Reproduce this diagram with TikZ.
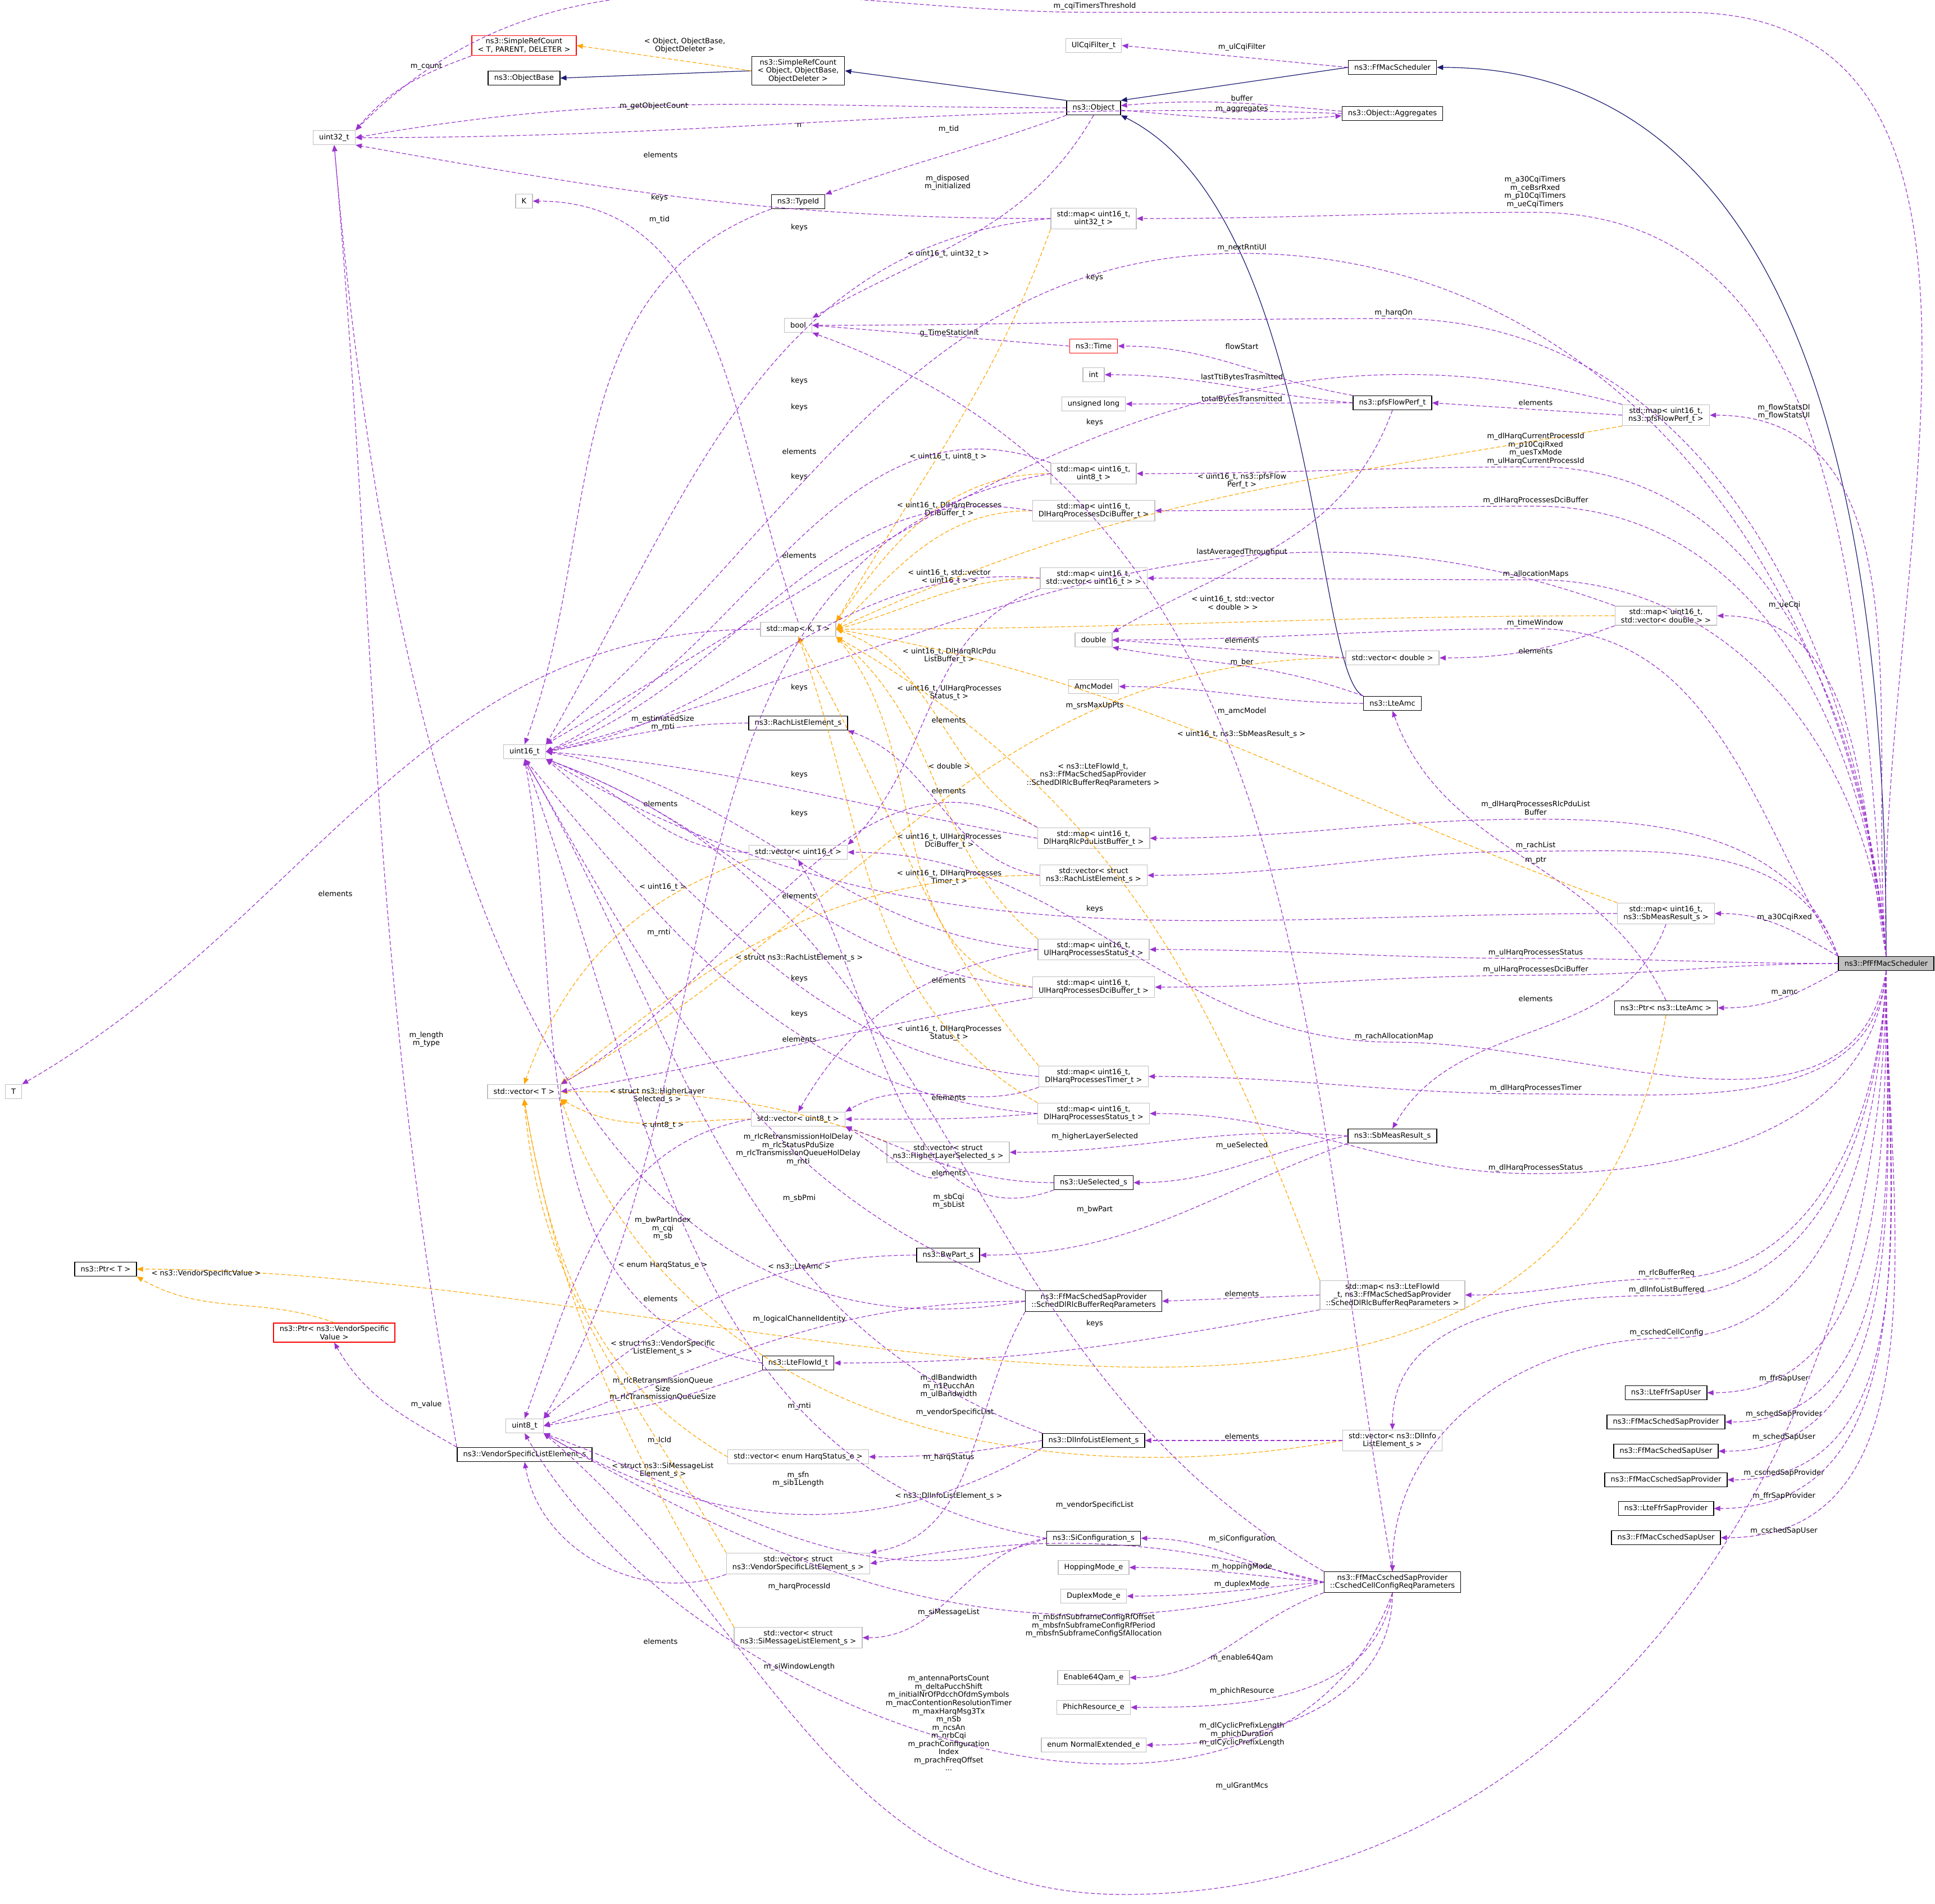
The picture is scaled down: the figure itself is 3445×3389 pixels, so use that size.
\documentclass[tikz,border=0pt]{standalone}
\usepackage{fontspec}
\setmainfont{DejaVu Sans}
\usetikzlibrary{arrows.meta}
\definecolor{pur}{HTML}{9A32CD}
\definecolor{org}{HTML}{FFA500}
\definecolor{nav}{HTML}{191970}
\definecolor{gbd}{HTML}{BFBFBF}
\newcommand\SE[6]{\draw[pe] (#1) to[out=#2,in=0] (#5,-#6) to[out=180,in=#4] (#3);}
\newcommand\lb[3]{\node[lbl] at (#1,-#2) {#3};}
\begin{document}
\begin{tikzpicture}[x=0.1bp,y=0.1bp,
 every node/.style={font=\fontsize{1.31}{1.46}\selectfont,align=center},
 bx/.style={draw=black,line width=0.14bp,inner xsep=1.06bp,inner ysep=0.48bp,minimum height=2.5bp},
 gb/.style={bx,draw=gbd},
 rb/.style={bx,draw=red},
 lbl/.style={inner sep=0.1bp},
 pe/.style={draw=pur,line width=0.12bp,dash pattern=on 0.7bp off 0.4bp,-{Triangle[length=1.1bp,width=0.9bp]}},
 oe/.style={pe,draw=org,-{Triangle[length=1.1bp,width=0.9bp,fill=org]}},
 ne/.style={draw=nav,line width=0.12bp,-{Triangle[length=1.1bp,width=0.9bp]}},
]
\useasboundingbox (0,0) rectangle (3445,-3389);
% nodes
\node[bx,fill=gbd] (sched) at (3358,-1715) {ns3::PfFfMacScheduler};
\node[bx] (ffmac) at (2479,-120) {ns3::FfMacScheduler};
\node[gb] (ulcqi) at (1947,-81) {UlCqiFilter\_t};
\node[rb] (srcT) at (933,-81) {ns3::SimpleRefCount\\< T, PARENT, DELETER >};
\node[bx] (objbase) at (933,-139) {ns3::ObjectBase};
\node[bx] (srcobj) at (1421,-126) {ns3::SimpleRefCount\\< Object, ObjectBase,\\ObjectDeleter >};
\node[bx] (object) at (1947,-192) {ns3::Object};
\node[bx] (aggr) at (2479,-202) {ns3::Object::Aggregates};
\node[gb] (u32) at (595,-245) {uint32\_t};
\node[gb] (K) at (933,-358) {K};
\node[bx] (typeid) at (1421,-359) {ns3::TypeId};
\node[gb] (m1632) at (1947,-389) {std::map< uint16\_t,\\uint32\_t >};
\node[gb] (bool) at (1421,-579) {bool};
\node[rb] (time) at (1947,-616) {ns3::Time};
\node[gb] (int) at (1947,-667) {int};
\node[gb] (ulong) at (1947,-719) {unsigned long};
\node[bx] (pfs) at (2479,-717) {ns3::pfsFlowPerf\_t};
\node[gb] (mpfs) at (2966,-739) {std::map< uint16\_t,\\ns3::pfsFlowPerf\_t >};
\node[gb] (m168) at (1947,-843) {std::map< uint16\_t,\\uint8\_t >};
\node[gb] (mdci) at (1947,-909) {std::map< uint16\_t,\\DlHarqProcessesDciBuffer\_t >};
\node[gb] (mvec16) at (1947,-1029) {std::map< uint16\_t,\\std::vector< uint16\_t > >};
\node[gb] (mKT) at (1421,-1120) {std::map< K, T >};
\node[gb] (mvecd) at (2966,-1096) {std::map< uint16\_t,\\std::vector< double > >};
\node[gb] (dbl) at (1947,-1139) {double};
\node[gb] (vecd) at (2479,-1171) {std::vector< double >};
\node[gb] (amcm) at (1947,-1222) {AmcModel};
\node[bx] (lteamc) at (2479,-1252) {ns3::LteAmc};
\node[gb] (u16) at (934,-1338) {uint16\_t};
\node[bx] (rach) at (1421,-1287) {ns3::RachListElement\_s};
\node[gb] (mrlc) at (1947,-1492) {std::map< uint16\_t,\\DlHarqRlcPduListBuffer\_t >};
\node[gb] (v16) at (1421,-1517) {std::vector< uint16\_t >};
\node[gb] (vrach) at (1947,-1558) {std::vector< struct\\ns3::RachListElement\_s >};
\node[gb] (msb) at (2966,-1626) {std::map< uint16\_t,\\ns3::SbMeasResult\_s >};
\node[gb] (mulst) at (1947,-1690) {std::map< uint16\_t,\\UlHarqProcessesStatus\_t >};
\node[gb] (muldci) at (1947,-1757) {std::map< uint16\_t,\\UlHarqProcessesDciBuffer\_t >};
\node[bx] (plteamc) at (2966,-1794) {ns3::Ptr< ns3::LteAmc >};
\node[gb] (T) at (24,-1943) {T};
\node[gb] (vT) at (933,-1943) {std::vector< T >};
\node[gb] (mdltim) at (1947,-1916) {std::map< uint16\_t,\\DlHarqProcessesTimer\_t >};
\node[gb] (v8) at (1421,-1992) {std::vector< uint8\_t >};
\node[gb] (mdlst) at (1947,-1982) {std::map< uint16\_t,\\DlHarqProcessesStatus\_t >};
\node[gb] (vhigh) at (1688,-2051) {std::vector< struct\\ns3::HigherLayerSelected\_s >};
\node[bx] (sbm) at (2479,-2022) {ns3::SbMeasResult\_s};
\node[bx] (uesel) at (1947,-2105) {ns3::UeSelected\_s};
\node[bx] (bwp) at (1688,-2234) {ns3::BwPart\_s};
\node[bx] (ptrT) at (188,-2259) {ns3::Ptr< T >};
\node[rb] (pvsv) at (595,-2372) {ns3::Ptr< ns3::VendorSpecific\\Value >};
\node[bx] (sdrlc) at (1947,-2316) {ns3::FfMacSchedSapProvider\\::SchedDlRlcBufferReqParameters};
\node[gb] (mflow) at (2479,-2305) {std::map< ns3::LteFlowId\\\_t, ns3::FfMacSchedSapProvider\\::SchedDlRlcBufferReqParameters >};
\node[bx] (flow) at (1421,-2426) {ns3::LteFlowId\_t};
\node[gb] (u8) at (934,-2538) {uint8\_t};
\node[bx] (vse) at (934,-2589) {ns3::VendorSpecificListElement\_s};
\node[gb] (vharq) at (1421,-2593) {std::vector< enum HarqStatus\_e >};
\node[bx] (dli) at (1947,-2564) {ns3::DlInfoListElement\_s};
\node[gb] (vdli) at (2479,-2564) {std::vector< ns3::DlInfo\\ListElement\_s >};
\node[gb] (vvse) at (1421,-2783) {std::vector< struct\\ns3::VendorSpecificListElement\_s >};
\node[bx] (sic) at (1947,-2738) {ns3::SiConfiguration\_s};
\node[gb] (hop) at (1947,-2790) {HoppingMode\_e};
\node[gb] (dup) at (1947,-2841) {DuplexMode\_e};
\node[bx] (csched) at (2479,-2816) {ns3::FfMacCschedSapProvider\\::CschedCellConfigReqParameters};
\node[gb] (vsim) at (1421,-2915) {std::vector< struct\\ns3::SiMessageListElement\_s >};
\node[gb] (e64) at (1947,-2986) {Enable64Qam\_e};
\node[gb] (phich) at (1947,-3039) {PhichResource\_e};
\node[gb] (nrm) at (1947,-3106) {enum NormalExtended\_e};
\node[bx] (ffrU) at (2966,-2479) {ns3::LteFfrSapUser};
\node[bx] (sspP) at (2966,-2531) {ns3::FfMacSchedSapProvider};
\node[bx] (sspU) at (2966,-2583) {ns3::FfMacSchedSapUser};
\node[bx] (csspP) at (2966,-2634) {ns3::FfMacCschedSapProvider};
\node[bx] (ffrP) at (2966,-2685) {ns3::LteFfrSapProvider};
\node[bx] (csspU) at (2966,-2737) {ns3::FfMacCschedSapUser};
% inheritance
\draw[ne] (sched.north) to[out=90,in=0] (ffmac.east);
\draw[ne] (ffmac.west) -- (object.north east);
\draw[ne] (object.north west) -- (srcobj.east);
\draw[ne] (srcobj.west) -- (objbase.east);
\draw[ne] (lteamc.north west) .. controls (2340,-1200) and (2345,-380) .. (object.south east);
% template instances
\draw[oe] (srcobj.west) -- (srcT.east); \lb{1219}{81}{< Object, ObjectBase,\\ObjectDeleter >}
\draw[oe] (m1632.south west) to[out=-110,in=60] (mKT.north east); \lb{1688}{452}{< uint16\_t, uint32\_t >}
\draw[oe] (m168.west) to[out=180,in=55] (mKT.north east); \lb{1688}{813}{< uint16\_t, uint8\_t >}
\draw[oe] (mdci.west) to[out=180,in=45] (mKT.east); \lb{1690}{907}{< uint16\_t, DlHarqProcesses\\DciBuffer\_t >}
\draw[oe] (mpfs.south west) to[out=190,in=25] (mKT.east); \lb{2211}{856}{< uint16\_t, ns3::pfsFlow\\Perf\_t >}
\draw[oe] (mvec16.west) to[out=180,in=15] (mKT.east); \lb{1690}{1027}{< uint16\_t, std::vector\\< uint16\_t > >}
\draw[oe] (mvecd.west) to[out=180,in=0] (mKT.east); \lb{2195}{1073}{< uint16\_t, std::vector\\< double > >}
\draw[oe] (mrlc.north west) to[out=150,in=-20] (mKT.east); \lb{1690}{1167}{< uint16\_t, DlHarqRlcPdu\\ListBuffer\_t >}
\draw[oe] (mulst.north west) to[out=140,in=-40] (mKT.south east); \lb{1690}{1233}{< uint16\_t, UlHarqProcesses\\Status\_t >}
\draw[oe] (msb.north west) to[out=160,in=-10] (mKT.east); \lb{2210}{1307}{< uint16\_t, ns3::SbMeasResult\_s >}
\draw[oe] (mflow.north west) to[out=110,in=-30] (mKT.south east); \lb{1946}{1379}{< ns3::LteFlowId\_t,\\ns3::FfMacSchedSapProvider\\::SchedDlRlcBufferReqParameters >}
\draw[oe] (muldci.west) to[out=170,in=-50] (mKT.south east); \lb{1690}{1497}{< uint16\_t, UlHarqProcesses\\DciBuffer\_t >}
\draw[oe] (mdltim.north west) to[out=130,in=-60] (mKT.south); \lb{1690}{1562}{< uint16\_t, DlHarqProcesses\\Timer\_t >}
\draw[oe] (mdlst.north west) to[out=150,in=-70] (mKT.south); \lb{1690}{1839}{< uint16\_t, DlHarqProcesses\\Status\_t >}
\draw[oe] (vecd.west) to[out=180,in=30] (vT.north east); \lb{1690}{1364}{< double >}
\draw[oe] (v16.south west) to[out=200,in=70] (vT.north); \lb{1180}{1579}{< uint16\_t >}
\draw[oe] (vrach.west) to[out=180,in=40] (vT.north east); \lb{1423}{1705}{< struct ns3::RachListElement\_s >}
\draw[oe] (vhigh.north west) to[out=160,in=0] (vT.east); \lb{1170}{1950}{< struct ns3::HigherLayer\\Selected\_s >}
\draw[oe] (v8.west) to[out=180,in=-30] (vT.south east); \lb{1180}{2003}{< uint8\_t >}
\draw[oe] (vharq.west) to[out=150,in=-80] (vT.south); \lb{1180}{2252}{< enum HarqStatus\_e >}
\draw[oe] (vvse.north west) to[out=120,in=-85] (vT.south); \lb{1180}{2399}{< struct ns3::VendorSpecific\\ListElement\_s >}
\draw[oe] (vsim.north west) to[out=120,in=-80] (vT.south); \lb{1180}{2617}{< struct ns3::SiMessageList\\Element\_s >}
\draw[oe] (vdli.west) to[out=190,in=-70] (vT.south east); \lb{1689}{2663}{< ns3::DlInfoListElement\_s >}
\draw[oe] (plteamc.south) to[out=-100,in=0] (ptrT.east); \lb{1423}{2254}{< ns3::LteAmc >}
\draw[oe] (pvsv.north) to[out=160,in=-30] (ptrT.south east); \lb{367}{2267}{< ns3::VendorSpecificValue >}
% members (non scheduler)
\draw[pe] (ffmac.west) -- (ulcqi.east); \lb{2211}{84}{m\_ulCqiFilter}
\draw[pe] (srcT.south west) to[out=200,in=50] (u32.north east); \lb{759}{118}{m\_count}
\draw[pe] (object.west) to[out=180,in=10] (u32.east); \lb{1164}{189}{m\_getObjectCount}
\draw[pe] (aggr.west) to[out=178,in=0] (u32.east); \lb{1423}{223}{n}
\draw[pe] ([yshift=0.4bp]aggr.west) to[out=175,in=5] ([yshift=0.4bp]object.east); \lb{2211}{175}{buffer}
\draw[pe] ([yshift=-0.4bp]object.east) to[out=-5,in=185] ([yshift=-0.4bp]aggr.west); \lb{2211}{194}{m\_aggregates}
\draw[pe] (object.south west) to[out=200,in=20] (typeid.north east); \lb{1689}{230}{m\_tid}
\draw[pe] (object.south) to[out=-120,in=30] (bool.north east); \lb{1687}{325}{m\_disposed\\m\_initialized}
\draw[pe] (m1632.west) to[out=180,in=-10] (u32.south east); \lb{1176}{276}{elements}
\draw[pe] (m1632.west) to[out=185,in=60] (u16.north east); \lb{1423}{405}{keys}
\draw[pe] (mKT.north) to[out=110,in=0] (K.east); \lb{1174}{352}{keys}
\draw[pe] (typeid.south west) to[out=200,in=70] (u16.north); \lb{1174}{391}{m\_tid}
\draw[pe] (mKT.west) to[out=180,in=30] (T.north east); \lb{597}{1591}{elements}
\draw[pe] (time.west) -- (bool.east); \lb{1690}{593}{g\_TimeStaticInit}
\draw[pe] (pfs.north west) to[out=170,in=0] (time.east); \lb{2211}{617}{flowStart}
\draw[pe] (pfs.west) to[out=175,in=0] (int.east); \lb{2211}{672}{lastTtiBytesTrasmitted}
\draw[pe] (pfs.west) to[out=180,in=0] (ulong.east); \lb{2211}{711}{totalBytesTransmitted}
\draw[pe] (pfs.south) to[out=-110,in=30] (dbl.north east); \lb{2211}{983}{lastAveragedThroughput}
\draw[pe] (mpfs.west) -- (pfs.east); \lb{2734}{717}{elements}
\draw[pe] (mpfs.north west) to[out=165,in=30] (u16.north east); \lb{1949}{494}{keys}
\draw[pe] (m168.north west) to[out=160,in=25] (u16.east); \lb{1423}{678}{keys}
\draw[pe] (m168.west) to[out=190,in=60] (u8.north east); \lb{1423}{804}{elements}
\draw[pe] (mdci.west) to[out=170,in=20] (u16.east); \lb{1423}{725}{keys}
\draw[pe] (mvecd.north west) to[out=160,in=15] (u16.east); \lb{1949}{752}{keys}
\draw[pe] (mvec16.west) to[out=175,in=10] (u16.east); \lb{1423}{849}{keys}
\draw[pe] (mvec16.south west) to[out=200,in=45] (v16.north east); \lb{1423}{989}{elements}
\draw[pe] (mvecd.south west) to[out=200,in=0] (vecd.east); \lb{2734}{1159}{elements}
\draw[pe] (vecd.west) -- (dbl.east); \lb{2211}{1140}{elements}
\draw[pe] (lteamc.north west) to[out=160,in=-10] (dbl.south east); \lb{2211}{1179}{m\_ber}
\draw[pe] (lteamc.west) to[out=180,in=0] (amcm.east); \lb{2211}{1266}{m\_amcModel}
\draw[pe] (mrlc.west) to[out=170,in=-5] (u16.east); \lb{1423}{1224}{keys}
\draw[pe] (mrlc.north west) to[out=150,in=30] (vT.north east); \lb{1689}{1282}{elements}
\draw[pe] (rach.west) to[out=180,in=10] (u16.east); \lb{1180}{1287}{m\_estimatedSize\\m\_rnti}
\draw[pe] (csched.north) to[out=100,in=-20] (bool.south east); \lb{1949}{1256}{m\_srsMaxUpPts}
\draw[pe] (mulst.west) to[out=175,in=-10] (u16.east); \lb{1423}{1379}{keys}
\draw[pe] (mulst.west) to[out=190,in=60] (v8.north); \lb{1689}{1408}{elements}
\draw[pe] (v16.west) to[out=180,in=-20] (u16.south east); \lb{1176}{1431}{elements}
\draw[pe] (muldci.west) to[out=175,in=-20] (u16.south east); \lb{1423}{1448}{keys}
\draw[pe] (vrach.west) to[out=170,in=-20] (rach.south east); \lb{1423}{1595}{elements}
\draw[pe] (msb.west) to[out=180,in=-30] (u16.south east); \lb{1949}{1618}{keys}
\draw[pe] (dli.north west) to[out=160,in=-60] (u16.south); \lb{1173}{1660}{m\_rnti}
\draw[pe] (mdltim.west) to[out=175,in=-40] (u16.south east); \lb{1423}{1742}{keys}
\draw[pe] (muldci.south west) to[out=190,in=10] (vT.east); \lb{1689}{1745}{elements}
\draw[pe] (mdlst.west) to[out=175,in=-50] (u16.south); \lb{1423}{1805}{keys}
\draw[pe] (mdltim.south west) to[out=200,in=30] (v8.north east); \lb{1423}{1850}{elements}
\draw[pe] (mdlst.west) to[out=185,in=0] (v8.east); \lb{1689}{1954}{elements}
\draw[pe] (msb.south) to[out=-110,in=60] (sbm.north); \lb{2734}{1778}{elements}
\draw[pe] (plteamc.north) to[out=115,in=-70] (lteamc.south); \lb{2734}{1531}{m\_ptr}
\draw[pe] (sbm.west) to[out=175,in=0] (vhigh.east); \lb{1949}{2023}{m\_higherLayerSelected}
\draw[pe] (sbm.west) to[out=190,in=0] (uesel.east); \lb{2211}{2039}{m\_ueSelected}
\draw[pe] (sbm.south west) to[out=200,in=0] (bwp.east); \lb{1949}{2153}{m\_bwPart}
\draw[pe] (vhigh.south) to[out=-100,in=-30] (v8.south east); \lb{1689}{2088}{elements}
\draw[pe] (uesel.west) to[out=180,in=-20] (v8.south east); \lb{1689}{2138}{m\_sbCqi\\m\_sbList}
\draw[pe] (uesel.south west) to[out=200,in=-60] (v16.south); \lb{1423}{2133}{m\_sbPmi}
\draw[pe] (bwp.west) to[out=180,in=40] (u8.north east); \lb{1180}{2187}{m\_bwPartIndex\\m\_cqi\\m\_sb}
\draw[pe] (sdrlc.north west) to[out=160,in=-60] (u16.south); \lb{1421}{2046}{m\_rlcRetransmissionHolDelay\\m\_rlcStatusPduSize\\m\_rlcTransmissionQueueHolDelay\\m\_rnti}
\draw[pe] (sdrlc.west) to[out=180,in=20] (u8.east); \lb{1423}{2348}{m\_logicalChannelIdentity}
\draw[pe] (sdrlc.west) to[out=190,in=-85] (u32.south); \lb{1180}{2473}{m\_rlcRetransmissionQueue\\Size\\m\_rlcTransmissionQueueSize}
\draw[pe] (sdrlc.south west) to[out=-120,in=10] (vvse.north east); \lb{1700}{2514}{m\_vendorSpecificList}
\draw[pe] (flow.west) to[out=170,in=-80] (u16.south); \lb{1423}{2503}{m\_rnti}
\draw[pe] (mflow.west) -- (sdrlc.east); \lb{2211}{2303}{elements}
\draw[pe] (mflow.south west) to[out=190,in=0] (flow.east); \lb{1949}{2356}{keys}
\draw[pe] (flow.south west) to[out=200,in=10] (u8.east); \lb{1174}{2564}{m\_lcId}
\draw[pe] (v8.west) to[out=190,in=70] (u8.north); \lb{1176}{2312}{elements}
\draw[pe] (vse.north west) to[out=100,in=-85] (u32.south); \lb{759}{1850}{m\_length\\m\_type}
\draw[pe] (vse.north west) to[out=150,in=-60] (pvsv.south); \lb{759}{2500}{m\_value}
\draw[pe] (vvse.south west) to[out=200,in=-80] (vse.south); \lb{1176}{2922}{elements}
\draw[pe] (dli.west) to[out=190,in=0] (vharq.east); \lb{1689}{2594}{m\_harqStatus}
\draw[pe] (dli.south west) to[out=210,in=-30] (u8.south east); \lb{1423}{2824}{m\_harqProcessId}
\draw[pe] (vdli.west) -- (dli.east); \lb{2211}{2557}{elements}
\draw[pe] (csched.north west) to[out=150,in=-20] (u16.south east); \lb{1689}{2468}{m\_dlBandwidth\\m\_n1PucchAn\\m\_ulBandwidth}
\draw[pe] (csched.west) to[out=165,in=10] (vvse.east); \lb{1949}{2679}{m\_vendorSpecificList}
\draw[pe] (csched.west) to[out=170,in=0] (sic.east); \lb{2211}{2739}{m\_siConfiguration}
\draw[pe] (csched.west) to[out=175,in=0] (hop.east); \lb{2211}{2789}{m\_hoppingMode}
\draw[pe] (csched.west) to[out=185,in=0] (dup.east); \lb{2211}{2820}{m\_duplexMode}
\draw[pe] (csched.south west) to[out=200,in=0] (e64.east); \lb{2211}{2951}{m\_enable64Qam}
\draw[pe] (csched.south) to[out=-100,in=0] (phich.east); \lb{2211}{3010}{m\_phichResource}
\draw[pe] (csched.south) to[out=-90,in=0] (nrm.east); \lb{2211}{3087}{m\_dlCyclicPrefixLength\\m\_phichDuration\\m\_ulCyclicPrefixLength}
\draw[pe] (csched.west) to[out=195,in=-30] (u8.south east); \lb{1947}{2894}{m\_mbsfnSubframeConfigRfOffset\\m\_mbsfnSubframeConfigRfPeriod\\m\_mbsfnSubframeConfigSfAllocation}
\draw[pe] (csched.south) to[out=-110,in=-60] (u8.south); \lb{1689}{3067}{m\_antennaPortsCount\\m\_deltaPucchShift\\m\_initialNrOfPdcchOfdmSymbols\\m\_macContentionResolutionTimer\\m\_maxHarqMsg3Tx\\m\_nSb\\m\_ncsAn\\m\_nrbCqi\\m\_prachConfiguration\\Index\\m\_prachFreqOffset\\...}
\draw[pe] (sic.west) to[out=200,in=-20] (u8.south east); \lb{1423}{2967}{m\_siWindowLength}
\draw[pe] (sic.west) to[out=190,in=0] (vsim.east); \lb{1689}{2870}{m\_siMessageList}
\draw[pe] (sic.west) to[out=170,in=-70] (u16.south); \lb{1421}{2633}{m\_sfn\\m\_sib1Length}
% scheduler members
\draw[pe] (sched.north) to[out=92,in=0] (3000,-22) -- (1949,-22) to[out=180,in=45] (u32.north east); \lb{1949}{11}{m\_cqiTimersThreshold}
\SE{sched.north}{95}{m1632.east}{0}{2733}{378} \lb{2733}{342}{m\_a30CqiTimers\\m\_ceBsrRxed\\m\_p10CqiTimers\\m\_ueCqiTimers}
\SE{sched.north}{95}{u16.north east}{40}{2211}{451} \lb{2211}{441}{m\_nextRntiUl}
\SE{sched.north}{95}{bool.east}{0}{2481}{567} \lb{2481}{557}{m\_harqOn}
\draw[pe] (sched.north) to[out=95,in=0] (mpfs.east); \lb{3176}{733}{m\_flowStatsDl\\m\_flowStatsUl}
\SE{sched.north}{95}{m168.east}{0}{2734}{831} \lb{2734}{799}{m\_dlHarqCurrentProcessId\\m\_p10CqiRxed\\m\_uesTxMode\\m\_ulHarqCurrentProcessId}
\SE{sched.north}{95}{mdci.east}{0}{2734}{901} \lb{2734}{891}{m\_dlHarqProcessesDciBuffer}
\SE{sched.north}{95}{mvec16.east}{0}{2734}{1032} \lb{2734}{1022}{m\_allocationMaps}
\draw[pe] (sched.north) to[out=100,in=0] (mvecd.east); \lb{3177}{1077}{m\_ueCqi}
\SE{sched.north west}{120}{dbl.east}{0}{2733}{1119} \lb{2733}{1109}{m\_timeWindow}
\SE{sched.north west}{110}{mrlc.east}{0}{2734}{1458} \lb{2734}{1438}{m\_dlHarqProcessesRlcPduList\\Buffer}
\SE{sched.north west}{110}{vrach.east}{0}{2734}{1515} \lb{2734}{1505}{m\_rachList}
\draw[pe] (sched.north west) to[out=150,in=0] (msb.east); \lb{3177}{1633}{m\_a30CqiRxed}
\SE{sched.west}{180}{mulst.east}{0}{2734}{1706} \lb{2734}{1696}{m\_ulHarqProcessesStatus}
\SE{sched.west}{180}{muldci.east}{0}{2734}{1736} \lb{2734}{1726}{m\_ulHarqProcessesDciBuffer}
\draw[pe] (sched.south west) to[out=210,in=0] (plteamc.east); \lb{3177}{1767}{m\_amc}
\SE{sched.south}{-100}{v16.east}{0}{2482}{1855} \lb{2482}{1845}{m\_rachAllocationMap}
\SE{sched.south}{-95}{mdltim.east}{0}{2734}{1947} \lb{2734}{1937}{m\_dlHarqProcessesTimer}
\SE{sched.south}{-95}{mdlst.east}{0}{2734}{2089} \lb{2734}{2079}{m\_dlHarqProcessesStatus}
\SE{sched.south}{-92}{mflow.east}{0}{2967}{2276} \lb{2967}{2266}{m\_rlcBufferReq}
\SE{sched.south}{-92}{vdli.north}{90}{2967}{2306} \lb{2967}{2296}{m\_dlInfoListBuffered}
\SE{sched.south}{-92}{csched.north}{90}{2967}{2382} \lb{2967}{2372}{m\_cschedCellConfig}
\draw[pe] (sched.south) to[out=-90,in=0] (ffrU.east); \lb{3176}{2454}{m\_ffrSapUser}
\draw[pe] (sched.south) to[out=-90,in=0] (sspP.east); \lb{3176}{2517}{m\_schedSapProvider}
\draw[pe] (sched.south) to[out=-90,in=0] (sspU.east); \lb{3176}{2558}{m\_schedSapUser}
\draw[pe] (sched.south) to[out=-90,in=0] (csspP.east); \lb{3176}{2622}{m\_cschedSapProvider}
\draw[pe] (sched.south) to[out=-90,in=0] (ffrP.east); \lb{3176}{2663}{m\_ffrSapProvider}
\draw[pe] (sched.south) to[out=-90,in=0] (csspU.east); \lb{3176}{2725}{m\_cschedSapUser}
\draw[pe] (sched.south) to[out=-90,in=0] (2000,-3372) to[out=180,in=-40] (u8.south east); \lb{2211}{3179}{m\_ulGrantMcs}
\end{tikzpicture}
\end{document}
